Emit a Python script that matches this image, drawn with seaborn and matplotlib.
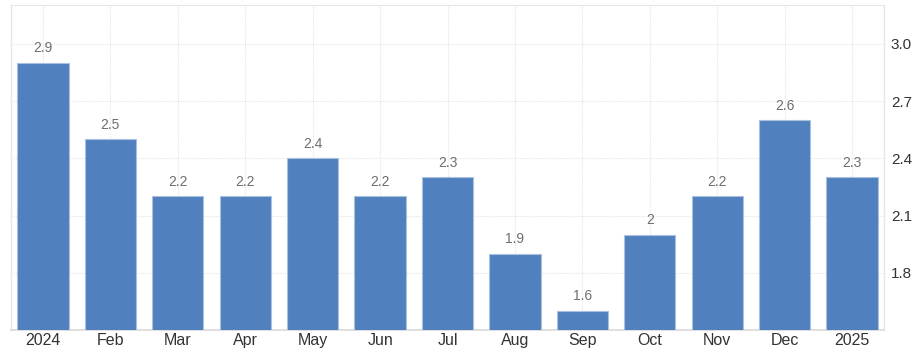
import pandas as pd
import numpy as np
import matplotlib
matplotlib.use("Agg")
import matplotlib.pyplot as plt
import seaborn as sns

months = ["2024", "Feb", "Mar", "Apr", "May", "Jun", "Jul", "Aug",
          "Sep", "Oct", "Nov", "Dec", "2025"]
rate = [2.9, 2.5, 2.2, 2.2, 2.4, 2.2, 2.3, 1.9, 1.6, 2.0, 2.2, 2.6, 2.3]
value_text = ["2.9", "2.5", "2.2", "2.2", "2.4", "2.2", "2.3", "1.9",
              "1.6", "2", "2.2", "2.6", "2.3"]
yticks = [1.8, 2.1, 2.4, 2.7, 3.0]

sns.set_style("white")
plt.rcParams['font.family'] = ['Liberation Sans', 'DejaVu Sans']

df = pd.DataFrame({"month": months, "rate": rate})

fig = plt.figure(figsize=(9.21, 3.55), dpi=100)
ax = fig.add_axes([11/921, 25/355, 873/921, 325/355])

sns.barplot(data=df, x="month", y="rate", color="#5080be", saturation=1,
            width=0.76, edgecolor="#a9c0de", linewidth=0.8, ax=ax, zorder=3)

ax.set_xlim(-0.475, 12.475)
ax.set_ylim(1.5, 3.204)
ax.set_yticks(yticks)
ax.set_yticklabels(["%.1f" % t for t in yticks])
ax.yaxis.tick_right()
ax.tick_params(axis="y", length=0, pad=5, labelsize=11, labelcolor="#333333")
ax.tick_params(axis="x", length=0, pad=2.5, labelsize=11.5, labelcolor="#333333")
for lbl in ax.get_yticklabels():
    lbl.set_y(lbl.get_position()[1])
ax.set_xlabel("")
ax.set_ylabel("")

# dotted grid
ax.grid(True, axis="both", color="#e6e6e6", linestyle=(0, (1, 1)), linewidth=0.8, zorder=0)
ax.set_axisbelow(True)

for s in ["left", "right"]:
    ax.spines[s].set_color("#e8e8e8")
    ax.spines[s].set_linewidth(1)
ax.spines["bottom"].set_color("#d9d9d9")
ax.spines["bottom"].set_linewidth(1.2)
ax.spines["top"].set_color("#e6e6e6")
ax.spines["top"].set_linestyle((0, (1, 1)))

for i, (v, t) in enumerate(zip(rate, value_text)):
    ax.annotate(t, xy=(i, v), xytext=(0, 5.5), textcoords="offset points",
                ha="center", va="bottom", fontsize=10, color="#6e6e6e")

plt.savefig("out.png", dpi=100)
